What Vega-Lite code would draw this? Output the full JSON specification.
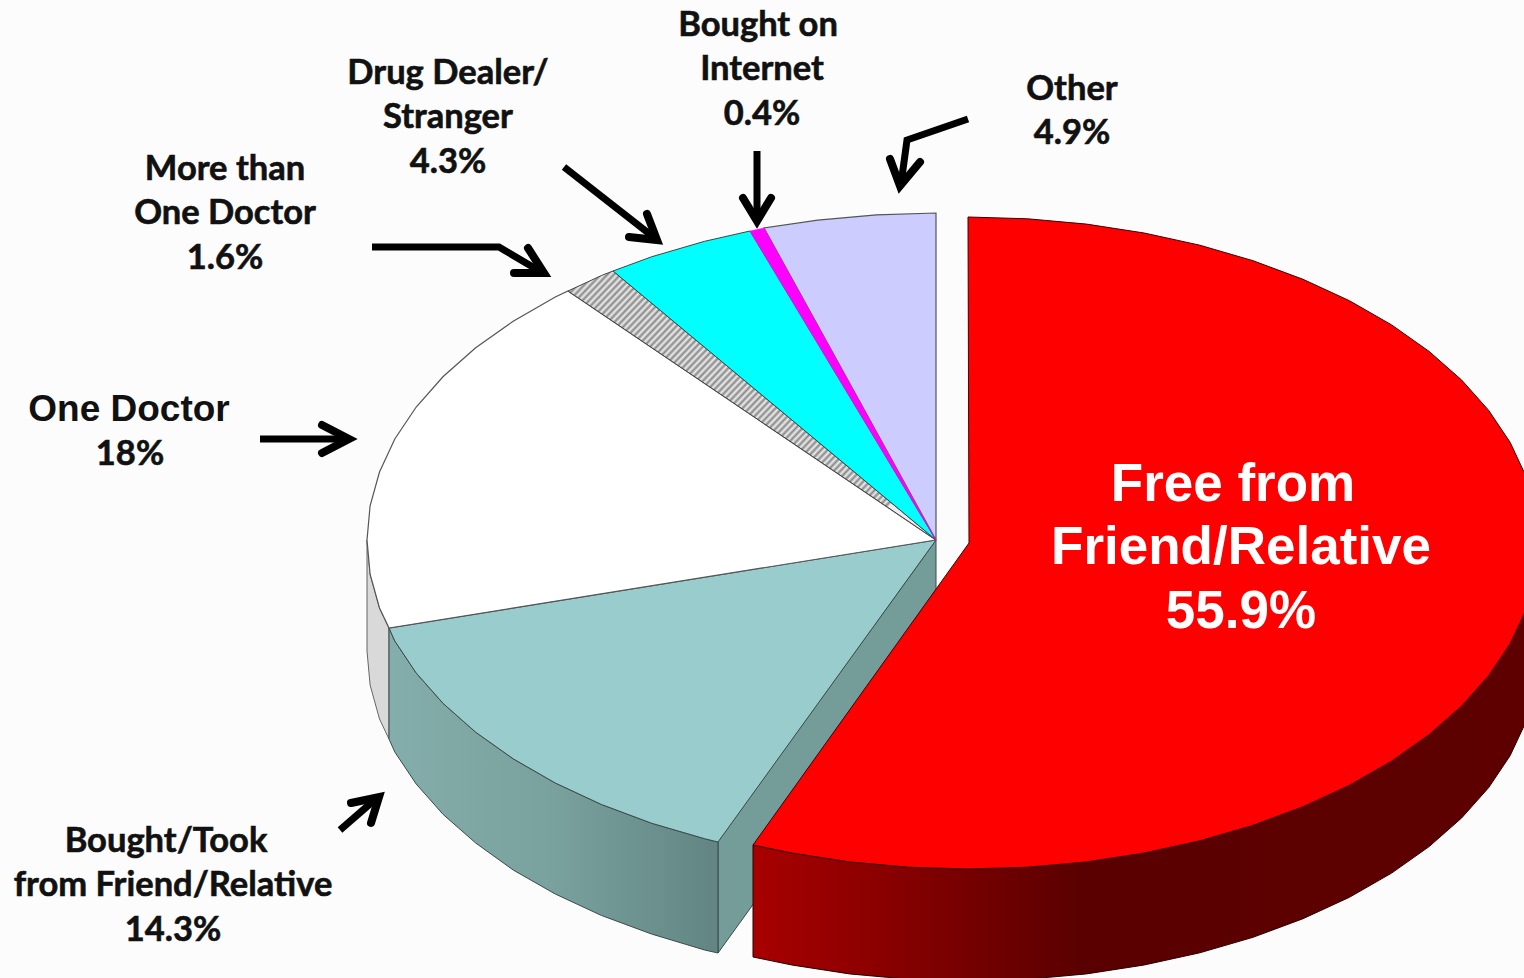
{"$schema":"https://vega.github.io/schema/vega-lite/v6.json","width":1524,"height":978,"padding":0,"autosize":{"type":"none"},"background":"#fcfcfc","config":{"view":{"stroke":null}},
"datasets":{
"pie":[
{"part":"teal_face","seq":1,"x":936,"y":540},{"part":"teal_face","seq":2,"x":718,"y":841},{"part":"teal_face","seq":3,"x":718,"y":953},{"part":"teal_face","seq":4,"x":936,"y":651},{"part":"teal_face","seq":5,"x":936,"y":540},
{"part":"gray_rim","seq":1,"x":367,"y":540},{"part":"gray_rim","seq":2,"x":370.1,"y":574.2},{"part":"gray_rim","seq":3,"x":379.5,"y":608},{"part":"gray_rim","seq":4,"x":389,"y":628},{"part":"gray_rim","seq":5,"x":389,"y":739},{"part":"gray_rim","seq":6,"x":379.5,"y":719},{"part":"gray_rim","seq":7,"x":370.1,"y":685},{"part":"gray_rim","seq":8,"x":367,"y":651},{"part":"gray_rim","seq":9,"x":367,"y":540},
{"part":"teal_rim","seq":1,"x":389,"y":628},{"part":"teal_rim","seq":2,"x":394.8,"y":641},{"part":"teal_rim","seq":3,"x":416.2,"y":673},{"part":"teal_rim","seq":4,"x":443.2,"y":703.5},{"part":"teal_rim","seq":5,"x":475.7,"y":732.2},{"part":"teal_rim","seq":6,"x":513.2,"y":758.8},{"part":"teal_rim","seq":7,"x":555.3,"y":783},{"part":"teal_rim","seq":8,"x":601.5,"y":804.5},{"part":"teal_rim","seq":9,"x":651.5,"y":823.2},{"part":"teal_rim","seq":10,"x":704.6,"y":838.7},{"part":"teal_rim","seq":11,"x":718,"y":842},{"part":"teal_rim","seq":12,"x":718,"y":953},{"part":"teal_rim","seq":13,"x":704.6,"y":950},{"part":"teal_rim","seq":14,"x":651.5,"y":934},{"part":"teal_rim","seq":15,"x":601.5,"y":915.5},{"part":"teal_rim","seq":16,"x":555.3,"y":894},{"part":"teal_rim","seq":17,"x":513.2,"y":870},{"part":"teal_rim","seq":18,"x":475.7,"y":843},{"part":"teal_rim","seq":19,"x":443.2,"y":814.5},{"part":"teal_rim","seq":20,"x":416.2,"y":784},{"part":"teal_rim","seq":21,"x":394.8,"y":752},{"part":"teal_rim","seq":22,"x":389,"y":739},{"part":"teal_rim","seq":23,"x":389,"y":628},
{"part":"teal_top","seq":1,"x":936,"y":540},{"part":"teal_top","seq":2,"x":389,"y":628},{"part":"teal_top","seq":3,"x":394.8,"y":641},{"part":"teal_top","seq":4,"x":416.2,"y":673},{"part":"teal_top","seq":5,"x":443.2,"y":703.5},{"part":"teal_top","seq":6,"x":475.7,"y":732.2},{"part":"teal_top","seq":7,"x":513.2,"y":758.8},{"part":"teal_top","seq":8,"x":555.3,"y":783},{"part":"teal_top","seq":9,"x":601.5,"y":804.5},{"part":"teal_top","seq":10,"x":651.5,"y":823.2},{"part":"teal_top","seq":11,"x":704.6,"y":838.7},{"part":"teal_top","seq":12,"x":718,"y":842},{"part":"teal_top","seq":13,"x":936,"y":540},
{"part":"white_top","seq":1,"x":936,"y":540},{"part":"white_top","seq":2,"x":568,"y":291},{"part":"white_top","seq":3,"x":555.3,"y":297},{"part":"white_top","seq":4,"x":513.2,"y":321.2},{"part":"white_top","seq":5,"x":475.7,"y":347.8},{"part":"white_top","seq":6,"x":443.2,"y":376.5},{"part":"white_top","seq":7,"x":416.2,"y":407},{"part":"white_top","seq":8,"x":394.8,"y":439},{"part":"white_top","seq":9,"x":379.5,"y":472},{"part":"white_top","seq":10,"x":370.1,"y":505.8},{"part":"white_top","seq":11,"x":367,"y":540},{"part":"white_top","seq":12,"x":370.1,"y":574.2},{"part":"white_top","seq":13,"x":379.5,"y":608},{"part":"white_top","seq":14,"x":389,"y":628},{"part":"white_top","seq":15,"x":936,"y":540},
{"part":"hatch_top","seq":1,"x":936,"y":540},{"part":"hatch_top","seq":2,"x":613,"y":271},{"part":"hatch_top","seq":3,"x":601.5,"y":275.5},{"part":"hatch_top","seq":4,"x":568,"y":291},{"part":"hatch_top","seq":5,"x":936,"y":540},
{"part":"cyan_top","seq":1,"x":936,"y":540},{"part":"cyan_top","seq":2,"x":750,"y":231},{"part":"cyan_top","seq":3,"x":704.6,"y":241.3},{"part":"cyan_top","seq":4,"x":651.5,"y":256.8},{"part":"cyan_top","seq":5,"x":613,"y":271},{"part":"cyan_top","seq":6,"x":936,"y":540},
{"part":"magenta_top","seq":1,"x":936,"y":540},{"part":"magenta_top","seq":2,"x":764,"y":228},{"part":"magenta_top","seq":3,"x":750,"y":231},{"part":"magenta_top","seq":4,"x":936,"y":540},
{"part":"lavender_top","seq":1,"x":936,"y":540},{"part":"lavender_top","seq":2,"x":936,"y":213},{"part":"lavender_top","seq":3,"x":876.5,"y":214.8},{"part":"lavender_top","seq":4,"x":817.7,"y":220.2},{"part":"lavender_top","seq":5,"x":764,"y":228},{"part":"lavender_top","seq":6,"x":936,"y":540},
{"part":"red_rim","seq":1,"x":1538,"y":543},{"part":"red_rim","seq":2,"x":1534.9,"y":577.1},{"part":"red_rim","seq":3,"x":1525.5,"y":610.8},{"part":"red_rim","seq":4,"x":1510.1,"y":643.7},{"part":"red_rim","seq":5,"x":1488.7,"y":675.6},{"part":"red_rim","seq":6,"x":1461.6,"y":706},{"part":"red_rim","seq":7,"x":1429.1,"y":734.6},{"part":"red_rim","seq":8,"x":1391.6,"y":761.1},{"part":"red_rim","seq":9,"x":1349.4,"y":785.3},{"part":"red_rim","seq":10,"x":1303,"y":806.7},{"part":"red_rim","seq":11,"x":1253,"y":825.3},{"part":"red_rim","seq":12,"x":1199.8,"y":840.8},{"part":"red_rim","seq":13,"x":1144.1,"y":853},{"part":"red_rim","seq":14,"x":1086.5,"y":861.9},{"part":"red_rim","seq":15,"x":1027.6,"y":867.2},{"part":"red_rim","seq":16,"x":968,"y":869},{"part":"red_rim","seq":17,"x":908.4,"y":867.2},{"part":"red_rim","seq":18,"x":849.5,"y":861.9},{"part":"red_rim","seq":19,"x":791.9,"y":853},{"part":"red_rim","seq":20,"x":753,"y":845},{"part":"red_rim","seq":21,"x":753,"y":957},{"part":"red_rim","seq":22,"x":791.9,"y":965},{"part":"red_rim","seq":23,"x":849.5,"y":973.9},{"part":"red_rim","seq":24,"x":908.4,"y":979.2},{"part":"red_rim","seq":25,"x":968,"y":981},{"part":"red_rim","seq":26,"x":1027.6,"y":979.2},{"part":"red_rim","seq":27,"x":1086.5,"y":973.9},{"part":"red_rim","seq":28,"x":1144.1,"y":965},{"part":"red_rim","seq":29,"x":1199.8,"y":952.8},{"part":"red_rim","seq":30,"x":1253,"y":937.3},{"part":"red_rim","seq":31,"x":1303,"y":918.7},{"part":"red_rim","seq":32,"x":1349.4,"y":897.3},{"part":"red_rim","seq":33,"x":1391.6,"y":873.1},{"part":"red_rim","seq":34,"x":1429.1,"y":846.6},{"part":"red_rim","seq":35,"x":1461.6,"y":818},{"part":"red_rim","seq":36,"x":1488.7,"y":787.6},{"part":"red_rim","seq":37,"x":1510.1,"y":755.7},{"part":"red_rim","seq":38,"x":1525.5,"y":722.8},{"part":"red_rim","seq":39,"x":1534.9,"y":689.1},{"part":"red_rim","seq":40,"x":1538,"y":655},{"part":"red_rim","seq":41,"x":1538,"y":543},
{"part":"red_top","seq":1,"x":969,"y":543},{"part":"red_top","seq":2,"x":968,"y":217},{"part":"red_top","seq":3,"x":1027.6,"y":218.8},{"part":"red_top","seq":4,"x":1086.5,"y":224.1},{"part":"red_top","seq":5,"x":1144.1,"y":233},{"part":"red_top","seq":6,"x":1199.8,"y":245.2},{"part":"red_top","seq":7,"x":1253,"y":260.7},{"part":"red_top","seq":8,"x":1303,"y":279.3},{"part":"red_top","seq":9,"x":1349.4,"y":300.7},{"part":"red_top","seq":10,"x":1391.6,"y":324.9},{"part":"red_top","seq":11,"x":1429.1,"y":351.4},{"part":"red_top","seq":12,"x":1461.6,"y":380},{"part":"red_top","seq":13,"x":1488.7,"y":410.4},{"part":"red_top","seq":14,"x":1510.1,"y":442.3},{"part":"red_top","seq":15,"x":1525.5,"y":475.2},{"part":"red_top","seq":16,"x":1534.9,"y":508.9},{"part":"red_top","seq":17,"x":1538,"y":543},{"part":"red_top","seq":18,"x":1534.9,"y":577.1},{"part":"red_top","seq":19,"x":1525.5,"y":610.8},{"part":"red_top","seq":20,"x":1510.1,"y":643.7},{"part":"red_top","seq":21,"x":1488.7,"y":675.6},{"part":"red_top","seq":22,"x":1461.6,"y":706},{"part":"red_top","seq":23,"x":1429.1,"y":734.6},{"part":"red_top","seq":24,"x":1391.6,"y":761.1},{"part":"red_top","seq":25,"x":1349.4,"y":785.3},{"part":"red_top","seq":26,"x":1303,"y":806.7},{"part":"red_top","seq":27,"x":1253,"y":825.3},{"part":"red_top","seq":28,"x":1199.8,"y":840.8},{"part":"red_top","seq":29,"x":1144.1,"y":853},{"part":"red_top","seq":30,"x":1086.5,"y":861.9},{"part":"red_top","seq":31,"x":1027.6,"y":867.2},{"part":"red_top","seq":32,"x":968,"y":869},{"part":"red_top","seq":33,"x":908.4,"y":867.2},{"part":"red_top","seq":34,"x":849.5,"y":861.9},{"part":"red_top","seq":35,"x":791.9,"y":853},{"part":"red_top","seq":36,"x":753,"y":845},{"part":"red_top","seq":37,"x":969,"y":543}
],
"arrows":[
{"part":"other_s","seq":1,"x":968,"y":119},{"part":"other_s","seq":2,"x":907,"y":140},{"part":"other_s","seq":3,"x":901,"y":184},
{"part":"internet_s","seq":1,"x":757,"y":151},{"part":"internet_s","seq":2,"x":757,"y":220},
{"part":"dealer_s","seq":1,"x":564,"y":167},{"part":"dealer_s","seq":2,"x":656,"y":239},
{"part":"more_s","seq":1,"x":372,"y":247},{"part":"more_s","seq":2,"x":499,"y":247},{"part":"more_s","seq":3,"x":543,"y":273},
{"part":"one_s","seq":1,"x":260,"y":439},{"part":"one_s","seq":2,"x":348,"y":439},
{"part":"took_s","seq":1,"x":340,"y":830},{"part":"took_s","seq":2,"x":378,"y":797}
],
"heads":[
{"part":"other_h","seq":1,"x":890,"y":159},{"part":"other_h","seq":2,"x":900,"y":186},{"part":"other_h","seq":3,"x":920,"y":162},
{"part":"internet_h","seq":1,"x":743,"y":198},{"part":"internet_h","seq":2,"x":757,"y":221},{"part":"internet_h","seq":3,"x":771,"y":198},
{"part":"dealer_h","seq":1,"x":629,"y":237},{"part":"dealer_h","seq":2,"x":657,"y":240},{"part":"dealer_h","seq":3,"x":647,"y":214},
{"part":"more_h","seq":1,"x":514,"y":273},{"part":"more_h","seq":2,"x":544,"y":273},{"part":"more_h","seq":3,"x":528,"y":248},
{"part":"one_h","seq":1,"x":322,"y":425},{"part":"one_h","seq":2,"x":349,"y":439},{"part":"one_h","seq":3,"x":322,"y":453},
{"part":"took_h","seq":1,"x":351,"y":803},{"part":"took_h","seq":2,"x":379,"y":797},{"part":"took_h","seq":3,"x":371,"y":823}
],
"labels":[
{"line":"Bought on","x":758,"y":26},{"line":"Internet","x":762,"y":70},{"line":"0.4%","x":762,"y":115},
{"line":"Drug Dealer/","x":448,"y":74},{"line":"Stranger","x":448,"y":118},{"line":"4.3%","x":448,"y":163},
{"line":"Other","x":1072,"y":90},{"line":"4.9%","x":1072,"y":134},
{"line":"More than","x":225,"y":170},{"line":"One Doctor","x":225,"y":214},{"line":"1.6%","x":225,"y":259},
{"line":"18%","x":130,"y":455},
{"line":"Bought/Took","x":166,"y":842},{"line":"from Friend/Relative","x":173,"y":886},{"line":"14.3%","x":173,"y":931}
],
"arial":[{"line":"One Doctor","x":129,"y":410}],
"big":[{"line":"Free from","x":1233,"y":485},{"line":"Friend/Relative","x":1241,"y":548},{"line":"55.9%","x":1241,"y":612}]
},
"encoding":{"x":{"field":"x","type":"quantitative","scale":{"domain":[0,1524],"nice":false,"zero":false},"axis":null},"y":{"field":"y","type":"quantitative","scale":{"domain":[978,0],"nice":false,"zero":false},"axis":null}},
"layer":[
{"data":{"name":"pie"},"transform":[{"filter":"datum.part==='teal_face'"}],"mark":{"type":"line","fill":"#749d9a","stroke":"#3a4a4a","strokeWidth":1},"encoding":{"order":{"field":"seq"}}},
{"data":{"name":"pie"},"transform":[{"filter":"datum.part==='gray_rim'"}],"mark":{"type":"line","fill":"#d9d9d9","stroke":"#666666","strokeWidth":1},"encoding":{"order":{"field":"seq"}}},
{"data":{"name":"pie"},"transform":[{"filter":"datum.part==='teal_rim'"}],"mark":{"type":"line","fill":{"gradient":"linear","x1":0,"y1":0,"x2":1,"y2":0,"stops":[{"offset":0,"color":"#84aeab"},{"offset":0.5,"color":"#79a19e"},{"offset":1,"color":"#628583"}]},"stroke":"#3a4a4a","strokeWidth":1},"encoding":{"order":{"field":"seq"}}},
{"data":{"name":"pie"},"transform":[{"filter":"datum.part==='teal_top'"}],"mark":{"type":"line","fill":"#99cccc","stroke":"#3a4a4a","strokeWidth":1},"encoding":{"order":{"field":"seq"}}},
{"data":{"name":"pie"},"transform":[{"filter":"datum.part==='white_top'"}],"mark":{"type":"line","fill":"#ffffff","stroke":"#555555","strokeWidth":1.2},"encoding":{"order":{"field":"seq"}}},
{"data":{"name":"pie"},"transform":[{"filter":"datum.part==='hatch_top'"}],"mark":{"type":"line","fill":{"gradient":"linear","x1":0,"y1":0,"x2":1,"y2":0.7,"stops":[{"offset":0.03,"color":"#888"},{"offset":0.036,"color":"#eee"},{"offset":0.042,"color":"#888"},{"offset":0.048,"color":"#eee"},{"offset":0.054,"color":"#888"},{"offset":0.06,"color":"#eee"},{"offset":0.066,"color":"#888"},{"offset":0.072,"color":"#eee"},{"offset":0.078,"color":"#888"},{"offset":0.084,"color":"#eee"},{"offset":0.09,"color":"#888"},{"offset":0.096,"color":"#eee"},{"offset":0.102,"color":"#888"},{"offset":0.108,"color":"#eee"},{"offset":0.114,"color":"#888"},{"offset":0.12,"color":"#eee"},{"offset":0.126,"color":"#888"},{"offset":0.132,"color":"#eee"},{"offset":0.138,"color":"#888"},{"offset":0.144,"color":"#eee"},{"offset":0.15,"color":"#888"},{"offset":0.156,"color":"#eee"},{"offset":0.162,"color":"#888"},{"offset":0.168,"color":"#eee"},{"offset":0.174,"color":"#888"},{"offset":0.18,"color":"#eee"},{"offset":0.186,"color":"#888"},{"offset":0.192,"color":"#eee"},{"offset":0.198,"color":"#888"},{"offset":0.204,"color":"#eee"},{"offset":0.21,"color":"#888"},{"offset":0.216,"color":"#eee"},{"offset":0.222,"color":"#888"},{"offset":0.228,"color":"#eee"},{"offset":0.234,"color":"#888"},{"offset":0.24,"color":"#eee"},{"offset":0.246,"color":"#888"},{"offset":0.252,"color":"#eee"},{"offset":0.258,"color":"#888"},{"offset":0.264,"color":"#eee"},{"offset":0.27,"color":"#888"},{"offset":0.276,"color":"#eee"},{"offset":0.282,"color":"#888"},{"offset":0.288,"color":"#eee"},{"offset":0.294,"color":"#888"},{"offset":0.3,"color":"#eee"},{"offset":0.306,"color":"#888"},{"offset":0.312,"color":"#eee"},{"offset":0.318,"color":"#888"},{"offset":0.324,"color":"#eee"},{"offset":0.33,"color":"#888"},{"offset":0.336,"color":"#eee"},{"offset":0.342,"color":"#888"},{"offset":0.348,"color":"#eee"},{"offset":0.354,"color":"#888"},{"offset":0.36,"color":"#eee"},{"offset":0.366,"color":"#888"},{"offset":0.372,"color":"#eee"},{"offset":0.378,"color":"#888"},{"offset":0.384,"color":"#eee"},{"offset":0.39,"color":"#888"},{"offset":0.396,"color":"#eee"},{"offset":0.402,"color":"#888"},{"offset":0.408,"color":"#eee"},{"offset":0.414,"color":"#888"},{"offset":0.42,"color":"#eee"},{"offset":0.426,"color":"#888"},{"offset":0.432,"color":"#eee"},{"offset":0.438,"color":"#888"},{"offset":0.444,"color":"#eee"},{"offset":0.45,"color":"#888"},{"offset":0.456,"color":"#eee"},{"offset":0.462,"color":"#888"},{"offset":0.468,"color":"#eee"},{"offset":0.474,"color":"#888"},{"offset":0.48,"color":"#eee"},{"offset":0.486,"color":"#888"},{"offset":0.492,"color":"#eee"},{"offset":0.498,"color":"#888"},{"offset":0.504,"color":"#eee"},{"offset":0.51,"color":"#888"},{"offset":0.516,"color":"#eee"},{"offset":0.522,"color":"#888"},{"offset":0.528,"color":"#eee"},{"offset":0.534,"color":"#888"},{"offset":0.54,"color":"#eee"},{"offset":0.546,"color":"#888"},{"offset":0.552,"color":"#eee"},{"offset":0.558,"color":"#888"},{"offset":0.564,"color":"#eee"},{"offset":0.57,"color":"#888"},{"offset":0.576,"color":"#eee"},{"offset":0.582,"color":"#888"},{"offset":0.588,"color":"#eee"},{"offset":0.594,"color":"#888"},{"offset":0.6,"color":"#eee"},{"offset":0.606,"color":"#888"},{"offset":0.612,"color":"#eee"},{"offset":0.618,"color":"#888"},{"offset":0.624,"color":"#eee"},{"offset":0.63,"color":"#888"},{"offset":0.636,"color":"#eee"},{"offset":0.642,"color":"#888"},{"offset":0.648,"color":"#eee"},{"offset":0.654,"color":"#888"},{"offset":0.66,"color":"#eee"},{"offset":0.666,"color":"#888"},{"offset":0.672,"color":"#eee"},{"offset":0.678,"color":"#888"},{"offset":0.684,"color":"#eee"},{"offset":0.69,"color":"#888"},{"offset":0.696,"color":"#eee"},{"offset":0.702,"color":"#888"},{"offset":0.708,"color":"#eee"},{"offset":0.714,"color":"#888"},{"offset":0.72,"color":"#eee"},{"offset":0.726,"color":"#888"},{"offset":0.732,"color":"#eee"},{"offset":0.738,"color":"#888"},{"offset":0.744,"color":"#eee"},{"offset":0.75,"color":"#888"},{"offset":0.756,"color":"#eee"},{"offset":0.762,"color":"#888"},{"offset":0.768,"color":"#eee"},{"offset":0.774,"color":"#888"},{"offset":0.78,"color":"#eee"},{"offset":0.786,"color":"#888"},{"offset":0.792,"color":"#eee"},{"offset":0.798,"color":"#888"},{"offset":0.804,"color":"#eee"},{"offset":0.81,"color":"#888"},{"offset":0.816,"color":"#eee"},{"offset":0.822,"color":"#888"},{"offset":0.828,"color":"#eee"},{"offset":0.834,"color":"#888"},{"offset":0.84,"color":"#eee"},{"offset":0.846,"color":"#888"},{"offset":0.852,"color":"#eee"},{"offset":0.858,"color":"#888"},{"offset":0.864,"color":"#eee"},{"offset":0.87,"color":"#888"},{"offset":0.876,"color":"#eee"},{"offset":0.882,"color":"#888"},{"offset":0.888,"color":"#eee"},{"offset":0.894,"color":"#888"},{"offset":0.9,"color":"#eee"},{"offset":0.906,"color":"#888"},{"offset":0.912,"color":"#eee"},{"offset":0.918,"color":"#888"},{"offset":0.924,"color":"#eee"},{"offset":0.93,"color":"#888"},{"offset":0.936,"color":"#eee"},{"offset":0.942,"color":"#888"},{"offset":0.948,"color":"#eee"},{"offset":0.954,"color":"#888"},{"offset":0.96,"color":"#eee"},{"offset":0.966,"color":"#888"},{"offset":0.972,"color":"#eee"},{"offset":0.978,"color":"#888"},{"offset":0.984,"color":"#eee"},{"offset":0.99,"color":"#888"},{"offset":0.996,"color":"#eee"}]},"stroke":"#444444","strokeWidth":1},"encoding":{"order":{"field":"seq"}}},
{"data":{"name":"pie"},"transform":[{"filter":"datum.part==='cyan_top'"}],"mark":{"type":"line","fill":"#00ffff","stroke":"#444444","strokeWidth":1},"encoding":{"order":{"field":"seq"}}},
{"data":{"name":"pie"},"transform":[{"filter":"datum.part==='lavender_top'"}],"mark":{"type":"line","fill":"#ccccff","stroke":"#555555","strokeWidth":1.2},"encoding":{"order":{"field":"seq"}}},
{"data":{"name":"pie"},"transform":[{"filter":"datum.part==='magenta_top'"}],"mark":{"type":"line","fill":"#ff00ff","stroke":"#ff00ff","strokeWidth":0.5},"encoding":{"order":{"field":"seq"}}},
{"data":{"name":"pie"},"transform":[{"filter":"datum.part==='red_rim'"}],"mark":{"type":"line","fill":{"gradient":"linear","x1":0,"y1":0,"x2":1,"y2":0,"stops":[{"offset":0,"color":"#a80000"},{"offset":0.25,"color":"#7a0000"},{"offset":0.42,"color":"#5a0000"},{"offset":1,"color":"#5e0000"}]},"stroke":"#2a0000","strokeWidth":1},"encoding":{"order":{"field":"seq"}}},
{"data":{"name":"pie"},"transform":[{"filter":"datum.part==='red_top'"}],"mark":{"type":"line","fill":"#ff0000","stroke":"#3a0000","strokeWidth":1},"encoding":{"order":{"field":"seq"}}},
{"data":{"name":"arrows"},"mark":{"type":"line","stroke":"#000000","strokeWidth":7,"strokeCap":"butt","strokeJoin":"miter"},"encoding":{"detail":{"field":"part"},"order":{"field":"seq"}}},
{"data":{"name":"heads"},"mark":{"type":"line","stroke":"#000000","strokeWidth":8,"strokeCap":"round","strokeJoin":"miter","strokeMiterLimit":10},"encoding":{"detail":{"field":"part"},"order":{"field":"seq"}}},
{"data":{"name":"labels"},"mark":{"type":"text","font":"Lato","fontWeight":"bold","fontSize":34.5,"color":"#111111","stroke":"#111111","strokeWidth":0.6,"align":"center","baseline":"middle"},"encoding":{"text":{"field":"line"}}},
{"data":{"name":"arial"},"mark":{"type":"text","font":"Liberation Sans","fontWeight":"bold","fontSize":37,"color":"#111111","align":"center","baseline":"middle"},"encoding":{"text":{"field":"line"}}},
{"data":{"name":"big"},"mark":{"type":"text","font":"Liberation Sans","fontWeight":"bold","fontSize":53,"color":"#ffffff","align":"center","baseline":"middle"},"encoding":{"text":{"field":"line"}}}
]}
